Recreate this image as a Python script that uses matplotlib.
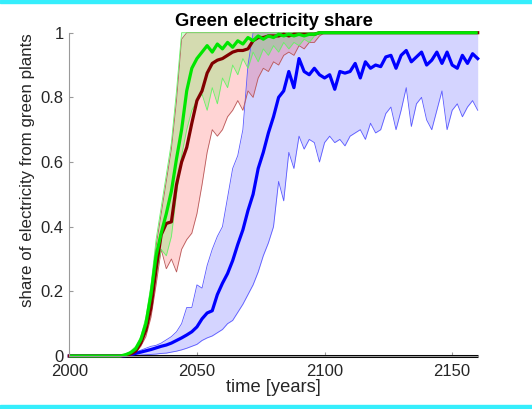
import numpy as np
import matplotlib
matplotlib.use("Agg")
import matplotlib.pyplot as plt
from matplotlib.patches import Rectangle

plt.rcParams['font.family'] = ['Liberation Sans', 'DejaVu Sans']

# ---------------- data (every 2 years) ----------------
years = list(range(2000, 2161, 2))

zeros_pre = [0.0] * 10  # 2000..2018

green_mean = zeros_pre + [
    0.0, 0.004, 0.01, 0.022, 0.05, 0.10, 0.19, 0.31, 0.38, 0.44,
    0.51, 0.61, 0.70, 0.82, 0.89, 0.92, 0.94, 0.96, 0.94, 0.965,
    0.95, 0.97, 0.955, 0.975, 0.965, 0.985, 0.975, 0.99, 0.98, 0.99,
    0.985, 0.995, 0.99, 0.995, 0.99, 0.995, 0.99, 0.995, 0.995, 1.0] + [1.0] * 31
green_upper = zeros_pre + [
    0.0, 0.006, 0.015, 0.03, 0.06, 0.12, 0.22, 0.36, 0.46, 0.56,
    0.66, 0.82, 1.0] + [1.0] * 58
green_lower = zeros_pre + [
    0.0, 0.003, 0.008, 0.018, 0.04, 0.08, 0.15, 0.25, 0.33, 0.31,
    0.37, 0.50, 0.62, 0.70, 0.76, 0.79, 0.81, 0.76, 0.83, 0.78,
    0.86, 0.83, 0.90, 0.87, 0.92, 0.89, 0.94, 0.91, 0.95, 0.93,
    0.96, 0.94, 0.97, 0.95, 0.97, 0.96, 0.98, 0.97, 0.99, 1.0] + [1.0] * 31

red_mean = zeros_pre + [
    0.0, 0.002, 0.006, 0.015, 0.04, 0.08, 0.15, 0.27, 0.375, 0.41,
    0.415, 0.53, 0.60, 0.645, 0.72, 0.79, 0.82, 0.875, 0.905, 0.915,
    0.92, 0.93, 0.94, 0.945, 0.945, 0.95, 0.975, 0.985, 0.985, 0.99,
    0.99, 0.99, 0.995, 0.99, 0.995, 0.995, 0.995, 0.995, 0.995, 1.0] + [1.0] * 31
red_upper = zeros_pre + [
    0.0, 0.005, 0.013, 0.027, 0.055, 0.11, 0.21, 0.34, 0.44, 0.54,
    0.64, 0.79, 0.98] + [1.0] * 58
red_lower = zeros_pre + [
    0.0, 0.001, 0.004, 0.01, 0.03, 0.06, 0.12, 0.22, 0.33, 0.27,
    0.30, 0.26, 0.33, 0.36, 0.38, 0.44, 0.53, 0.63, 0.70, 0.68,
    0.70, 0.74, 0.76, 0.79, 0.76, 0.82, 0.80, 0.86, 0.89, 0.88,
    0.91, 0.90, 0.93, 0.94, 0.93, 0.96, 0.95, 0.97, 0.97, 0.99,
    1.0] + [1.0] * 30

blue_mean = zeros_pre + [
    0.0, 0.001, 0.004, 0.008, 0.012, 0.016, 0.02, 0.025, 0.03, 0.034,
    0.04, 0.048, 0.056, 0.065, 0.075, 0.09, 0.115, 0.133, 0.14, 0.19,
    0.225, 0.255, 0.295, 0.345, 0.39, 0.45, 0.50, 0.58, 0.63, 0.69,
    0.74, 0.80, 0.82, 0.88, 0.83, 0.92, 0.88, 0.87, 0.89, 0.87,
    0.86, 0.87, 0.825, 0.88, 0.875, 0.88, 0.905, 0.86, 0.91, 0.89,
    0.90, 0.895, 0.925, 0.93, 0.89, 0.93, 0.945, 0.91, 0.925, 0.94,
    0.90, 0.915, 0.94, 0.905, 0.94, 0.90, 0.89, 0.93, 0.905, 0.935,
    0.92]
blue_upper = zeros_pre + [
    0.0, 0.002, 0.006, 0.012, 0.018, 0.024, 0.03, 0.033, 0.04, 0.05,
    0.06, 0.075, 0.10, 0.15, 0.15, 0.22, 0.21, 0.28, 0.33, 0.37,
    0.40, 0.49, 0.58, 0.62, 0.70, 0.90, 1.0] + [1.0] * 44
blue_lower = zeros_pre + [
    0.0, 0.0, 0.001, 0.002, 0.003, 0.004, 0.005, 0.006, 0.008, 0.009,
    0.012, 0.015, 0.019, 0.024, 0.03, 0.036, 0.048, 0.056, 0.062, 0.072,
    0.082, 0.10, 0.11, 0.135, 0.16, 0.19, 0.22, 0.26, 0.31, 0.35,
    0.40, 0.54, 0.48, 0.63, 0.58, 0.68, 0.64, 0.67, 0.66, 0.60,
    0.66, 0.68, 0.66, 0.67, 0.65, 0.68, 0.69, 0.70, 0.67, 0.72,
    0.69, 0.70, 0.75, 0.77, 0.70, 0.76, 0.83, 0.71, 0.78, 0.80,
    0.73, 0.70, 0.76, 0.82, 0.70, 0.76, 0.78, 0.74, 0.77, 0.79,
    0.76]

baseline = [0.0] * len(years)

xticks = [2000, 2050, 2100, 2150]
yticks = [0, 0.2, 0.4, 0.6, 0.8, 1]
yticklabels = ['0', '0.2', '0.4', '0.6', '0.8', '1']

# ---------------- figure ----------------
W, H = 532, 409
fig = plt.figure(figsize=(W / 100, H / 100), dpi=100)
x0, x1, ytop, ybot = 69.3, 477.7, 32.7, 356.0
ax = fig.add_axes([x0 / W, (H - ybot) / H, (x1 - x0) / W, (ybot - ytop) / H])

# cyan frame bars
fig.patches.append(Rectangle((0, 1 - 3 / H), 1, 3 / H, transform=fig.transFigure,
                             color='#35eefc', zorder=0))
fig.patches.append(Rectangle((0, 0), 1, 4 / H, transform=fig.transFigure,
                             color='#35eefc', zorder=0))

a = 0.17
ax.fill_between(years, blue_lower, blue_upper, color=(0, 0, 1), alpha=a, lw=0)
ax.fill_between(years, red_lower, red_upper, color=(1, 0, 0), alpha=a, lw=0)
ax.fill_between(years, green_lower, green_upper, color=(0, 1, 0), alpha=a, lw=0)

thin = 0.6
ax.plot(years, blue_lower, color=(0.35, 0.35, 1), lw=thin, clip_on=False)
ax.plot(years, blue_upper, color=(0.35, 0.35, 1), lw=thin, clip_on=False)
ax.plot(years, red_lower, color=(0.72, 0.35, 0.35), lw=thin, clip_on=False)
ax.plot(years, red_upper, color=(0.72, 0.35, 0.35), lw=thin, clip_on=False)
ax.plot(years, green_lower, color=(0.4, 0.95, 0.4), lw=thin, clip_on=False)
ax.plot(years, green_upper, color=(0.4, 0.95, 0.4), lw=thin, clip_on=False)

ax.plot(years, baseline, color='black', lw=2.2, clip_on=False, solid_capstyle='butt')
ax.plot(years, blue_mean, color=(0, 0, 1), lw=2.3, clip_on=False)
ax.plot(years, red_mean, color=(0.5, 0, 0), lw=2.3, clip_on=False)
ax.plot(years, green_mean, color=(0, 0.9, 0), lw=2.3, clip_on=False,
        solid_capstyle='butt')

ax.set_xlim(2000, 2160)
ax.set_ylim(0, 1)
ax.set_xticks(xticks)
ax.set_xticklabels([str(t) for t in xticks])
ax.set_yticks(yticks)
ax.set_yticklabels(yticklabels)

for s in ['top', 'right']:
    ax.spines[s].set_visible(False)
for s in ['left', 'bottom']:
    ax.spines[s].set_color('#9a9a9a')
    ax.spines[s].set_linewidth(0.8)
ax.tick_params(direction='in', length=3, width=0.8, color='#9a9a9a',
               labelsize=12, labelcolor='#262626', pad=4)
ax.tick_params(axis='x', pad=6)
ax.set_facecolor('white')

ax.set_title('Green electricity share', fontsize=13.2, fontweight='bold', pad=5)
ax.set_xlabel('time [years]', fontsize=13.2, color='#262626', labelpad=0)
ax.set_ylabel('share of electricity from green plants', fontsize=12.2,
              color='#262626')
ax.yaxis.set_label_coords((35 - x0) / (x1 - x0), (ybot - 170) / (ybot - ytop))

fig.savefig('out.png', dpi=100)
